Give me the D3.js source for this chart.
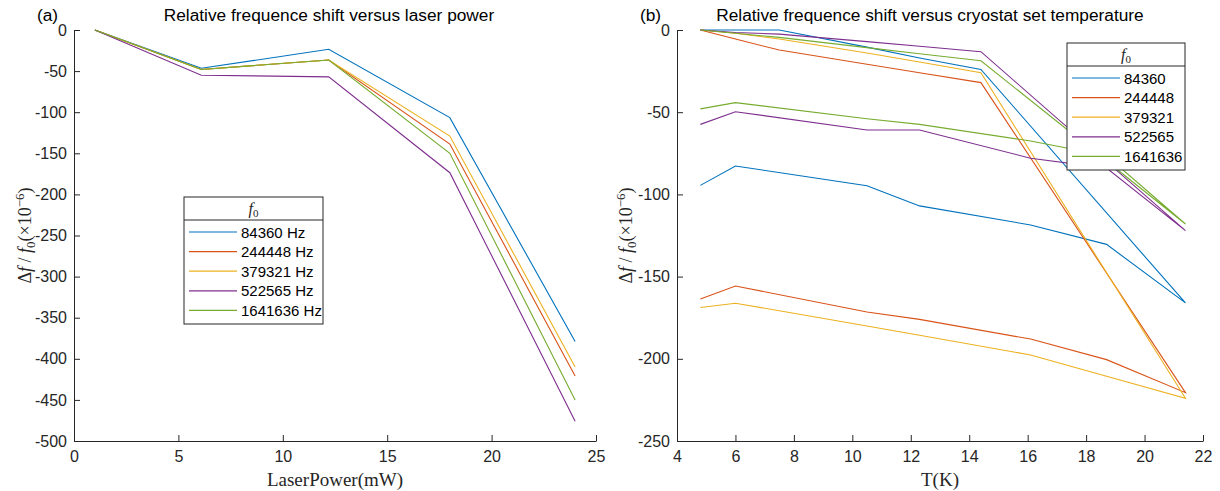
<!DOCTYPE html>
<html>
<head>
<meta charset="utf-8">
<script src="https://cdn.jsdelivr.net/npm/d3@7"></script>
<style>
	body{margin:0;background:#fff;}
	.axis path, .axis line{stroke:#262626;stroke-width:1;}
	.axis text{font-family:"Liberation Sans",Arial,sans-serif;font-size:16px;fill:#262626;}
	.title{font-family:"Liberation Sans",Arial,sans-serif;font-size:17.3px;fill:#000;}
	.axisLabel{font-family:"Liberation Serif","DejaVu Serif",serif;font-size:18px;fill:#262626;}
	.legendText{font-family:"Liberation Sans",Arial,sans-serif;font-size:15px;fill:#000;}
	.series{fill:none;stroke-width:1.1;}
</style>
</head>
<body>
<script>
//data
var seriesNames = ["84360", "244448", "379321", "522565", "1641636"];
var seriesColors = ["#0072BD", "#D95319", "#EDB120", "#7E2F8E", "#77AC30"];

//(a) laser power sweep
var powerMW = [1, 6.1, 12.2, 18, 24];
var powerShift = [
	[0, -46.6, -23.5, -106.6, -379],
	[0, -48, -36.5, -138.7, -421],
	[0, -48, -36.5, -129, -410],
	[0, -55, -57, -173.6, -476],
	[0, -48, -36.5, -150, -450]
];

//(b) temperature sweep, lower branch then upper branch back down
var tempLow = [4.8, 6.0, 10.5, 12.3, 16.1, 18.7, 21.4];
var tempHigh = [14.4, 12.3, 10.5, 7.5, 6.0, 4.8];
var tempShiftLow = [
	[-94.5, -82.7, -94.7, -107, -118.6, -130.4, -166],
	[-163.6, -155.7, -171.5, -176, -188, -200.5, -220.6],
	[-168.8, -166.2, -180, -185.7, -197.7, -210.6, -224],
	[-57.4, -49.7, -60.8, -60.8, -78, -84, -122],
	[-48, -44.2, -54, -57.4, -67.5, -76.5, -118]
];
var tempShiftHigh = [
	[-24, -17, -10.4, 0, 0, 0],
	[-32, -26, -20.8, -12.2, -5.5, 0],
	[-26, -19.5, -14, -5.5, -2, 0],
	[-13.2, -9.9, -7.1, -2.5, -1.5, 0],
	[-18.7, -14.4, -10.7, -4.5, -2, 0]
];

var xTicksA = [0, 5, 10, 15, 20, 25];
var yTicksA = [0, -50, -100, -150, -200, -250, -300, -350, -400, -450, -500];
var xTicksB = [4, 6, 8, 10, 12, 14, 16, 18, 20, 22];
var yTicksB = [0, -50, -100, -150, -200, -250];

var width = 1220, height = 491;
var svg = d3.select("body").append("svg")
	.attr("width", width)
	.attr("height", height);

//panel (a)
var linesA = seriesNames.map(function(n, i){
	return powerMW.map(function(p, j){ return [p, powerShift[i][j]]; });
});
drawPanel({
	left: 74, right: 596, top: 30, bottom: 441,
	xDomain: [0, 25], yDomain: [-500, 0],
	xTicks: xTicksA, yTicks: yTicksA,
	tag: "(a)", tagX: 37, titleX: 329,
	title: "Relative frequence shift versus laser power",
	xLabel: "LaserPower(mW)", yLabelX: 25,
	lines: linesA,
	legend: {x: 184, y: 197, w: 139, suffix: " Hz"}
});

//panel (b)
var linesB = seriesNames.map(function(n, i){
	var pts = tempLow.map(function(t, j){ return [t, tempShiftLow[i][j]]; });
	tempHigh.forEach(function(t, j){ pts.push([t, tempShiftHigh[i][j]]); });
	return pts;
});
drawPanel({
	left: 677, right: 1203, top: 30, bottom: 441,
	xDomain: [4, 22], yDomain: [-250, 0],
	xTicks: xTicksB, yTicks: yTicksB,
	tag: "(b)", tagX: 640, titleX: 930,
	title: "Relative frequence shift versus cryostat set temperature",
	xLabel: "T(K)", yLabelX: 626,
	lines: linesB,
	legend: {x: 1067, y: 43, w: 118, suffix: ""}
});

function drawPanel(o){
	var x = d3.scaleLinear().domain(o.xDomain).range([o.left, o.right]);
	var y = d3.scaleLinear().domain(o.yDomain).range([o.bottom, o.top]);
	var g = svg.append("g");

	//series lines
	var line = d3.line()
		.x(function(d){ return x(d[0]); })
		.y(function(d){ return y(d[1]); });
	g.selectAll(".series")
		.data(o.lines)
		.enter()
		.append("path")
		.attr("class", "series")
		.attr("d", line)
		.style("stroke", function(d, i){ return seriesColors[i]; });

	//axes, ticks pointing inward like matlab
	g.append("g")
		.attr("class", "axis")
		.attr("transform", "translate(0," + o.bottom + ")")
		.call(d3.axisBottom(x).tickValues(o.xTicks).tickSizeInner(-6).tickSizeOuter(0).tickPadding(10)
			.tickFormat(function(d){ return String(d); }));
	g.append("g")
		.attr("class", "axis")
		.attr("transform", "translate(" + o.left + ",0)")
		.call(d3.axisLeft(y).tickValues(o.yTicks).tickSizeInner(-6).tickSizeOuter(0).tickPadding(7)
			.tickFormat(function(d){ return String(d); }));

	//titles
	g.append("text")
		.attr("class", "title")
		.attr("x", o.tagX)
		.attr("y", 21)
		.text(o.tag);
	g.append("text")
		.attr("class", "title")
		.attr("x", o.titleX)
		.attr("y", 21)
		.attr("text-anchor", "middle")
		.text(o.title);

	//axis labels
	g.append("text")
		.attr("class", "axisLabel")
		.style("font-size", "19px")
		.attr("x", (o.left + o.right) / 2)
		.attr("y", 486)
		.attr("text-anchor", "middle")
		.text(o.xLabel);

	var yl = g.append("text")
		.attr("class", "axisLabel")
		.attr("text-anchor", "middle")
		.attr("transform", "translate(" + (o.yLabelX + 6) + "," + ((o.top + o.bottom) / 2) + ") rotate(-90)");
	yl.append("tspan").text("\u0394");
	yl.append("tspan").style("font-style", "italic").text("f");
	yl.append("tspan").text(" / ");
	yl.append("tspan").style("font-style", "italic").text("f");
	yl.append("tspan").attr("dy", 4).style("font-size", "13px").text("0");
	yl.append("tspan").attr("dy", -4).text("(\u00d710");
	yl.append("tspan").attr("dy", -7).style("font-size", "13px").text("\u22126");
	yl.append("tspan").attr("dy", 7).text(")");

	//legend
	var L = o.legend, rowH = 19.6, headH = 23;
	var lg = g.append("g").attr("transform", "translate(" + L.x + "," + L.y + ")");
	var boxH = headH + 6 + rowH * seriesNames.length;
	lg.append("rect")
		.attr("width", L.w).attr("height", boxH)
		.attr("fill", "#fff").attr("stroke", "#262626").attr("stroke-width", 1);
	lg.append("line")
		.attr("x1", 0).attr("x2", L.w).attr("y1", headH).attr("y2", headH)
		.attr("stroke", "#262626").attr("stroke-width", 1);
	var lt = lg.append("text")
		.attr("class", "axisLabel")
		.attr("x", L.w / 2).attr("y", 17)
		.attr("text-anchor", "middle")
		.style("font-size", "16px");
	lt.append("tspan").style("font-style", "italic").text("f");
	lt.append("tspan").attr("dy", 3).style("font-size", "11px").text("0");

	var rows = lg.selectAll(".legendRow")
		.data(seriesNames)
		.enter()
		.append("g")
		.attr("class", "legendRow")
		.attr("transform", function(d, i){ return "translate(0," + (headH + 12 + i * rowH) + ")"; });
	rows.append("line")
		.attr("x1", 5).attr("x2", 53)
		.attr("stroke-width", 1.2)
		.attr("stroke", function(d, i){ return seriesColors[i]; });
	rows.append("text")
		.attr("class", "legendText")
		.attr("x", 57).attr("y", 5.5)
		.text(function(d){ return d + L.suffix; });
}
</script>
</body>
</html>
